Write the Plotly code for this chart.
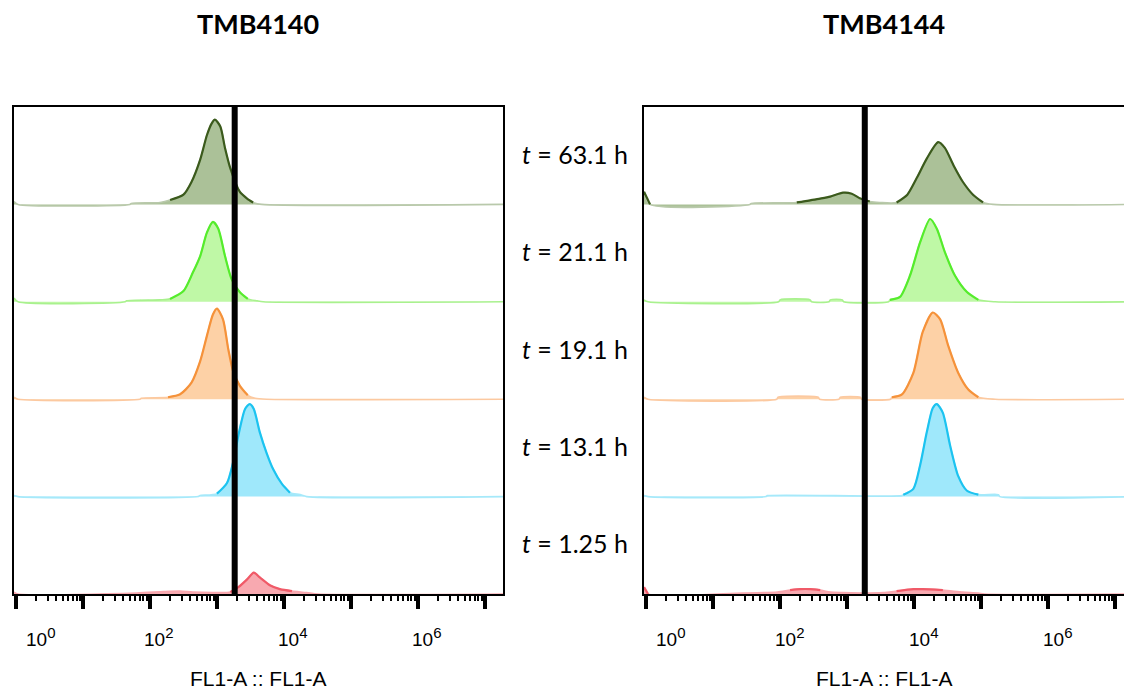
import numpy as np
import plotly.graph_objects as go

# ---------------- data (x positions as log10 of FL1-A, heights as fraction of row) -------------
PANELS = ["TMB4140", "TMB4144"]
TIMES = ["63.1", "21.1", "19.1", "13.1", "1.25"]          # top row -> bottom row
GATE = 1840                                               # vertical gate position (FL1-A)
AXIS_TITLE = "FL1-A :: FL1-A"
LABEL_EXPONENTS = [0, 2, 4, 6]
DECADES = [0, 1, 2, 3, 4, 5, 6, 7]

# TMB4140
L63_X = [-0.03, 0.03, 1.70, 1.72, 2.15, 2.30, 2.50, 2.62, 2.75, 2.85, 2.92, 2.97, 3.05, 3.12, 3.20, 3.34, 3.45, 3.54, 3.67, 7.30]
L63_H = [0.03, 0.0, 0.0, 0.01, 0.02, 0.045, 0.10, 0.23, 0.46, 0.71, 0.83, 0.87, 0.80, 0.58, 0.37, 0.13, 0.06, 0.02, 0.0, 0.0]
L21_X = [-0.03, 0.03, 1.63, 1.65, 2.15, 2.30, 2.50, 2.64, 2.75, 2.85, 2.94, 3.02, 3.12, 3.22, 3.34, 3.46, 3.60, 3.69, 7.30]
L21_H = [0.04, 0.0, 0.0, 0.01, 0.02, 0.03, 0.11, 0.30, 0.47, 0.71, 0.82, 0.75, 0.47, 0.23, 0.10, 0.03, 0.01, 0.0, 0.0]
L19_X = [-0.03, 0.03, 1.85, 1.87, 2.27, 2.45, 2.62, 2.75, 2.85, 2.94, 3.00, 3.09, 3.17, 3.24, 3.34, 3.46, 3.57, 3.74, 7.30]
L19_H = [0.02, 0.0, 0.0, 0.01, 0.02, 0.05, 0.17, 0.39, 0.65, 0.87, 0.93, 0.82, 0.51, 0.29, 0.14, 0.04, 0.01, 0.0, 0.0]
L13_X = [-0.03, 0.03, 2.72, 2.74, 3.00, 3.15, 3.24, 3.33, 3.42, 3.49, 3.55, 3.64, 3.74, 3.84, 3.97, 4.09, 4.24, 4.34, 7.30]
L13_H = [0.01, 0.0, 0.0, 0.01, 0.03, 0.14, 0.35, 0.66, 0.90, 0.95, 0.90, 0.66, 0.45, 0.28, 0.13, 0.04, 0.02, 0.0, 0.0]
L1_X = [-0.03, 0.03, 1.80, 2.20, 2.45, 2.64, 2.94, 3.20, 3.32, 3.45, 3.55, 3.64, 3.79, 3.94, 4.12, 4.34, 4.51, 7.30]
L1_H = [0.02, 0.0, 0.01, 0.025, 0.03, 0.02, 0.015, 0.02, 0.07, 0.15, 0.22, 0.17, 0.09, 0.05, 0.03, 0.015, 0.0, 0.0]

# TMB4144
R63_X = [-0.03, 0.06, 1.55, 1.57, 2.25, 2.60, 2.75, 2.94, 3.07, 3.20, 3.34, 3.49, 3.74, 3.90, 4.04, 4.19, 4.36, 4.46, 4.59, 4.73, 4.88, 5.03, 5.18, 7.30]
R63_H = [0.13, 0.0, 0.0, 0.01, 0.02, 0.06, 0.08, 0.12, 0.11, 0.06, 0.03, 0.02, 0.02, 0.10, 0.27, 0.47, 0.64, 0.58, 0.40, 0.23, 0.10, 0.02, 0.0, 0.0]
R21_X = [-0.03, 0.03, 1.98, 2.00, 2.45, 2.47, 2.73, 2.75, 2.93, 2.95, 3.62, 3.64, 3.79, 3.94, 4.09, 4.24, 4.34, 4.46, 4.61, 4.79, 4.96, 5.21, 7.30]
R21_H = [0.02, 0.0, 0.0, 0.02, 0.02, 0.0, 0.0, 0.02, 0.02, 0.0, 0.0, 0.02, 0.05, 0.27, 0.61, 0.85, 0.75, 0.51, 0.27, 0.10, 0.02, 0.0, 0.0]
R19_X = [-0.03, 0.03, 1.95, 1.97, 2.57, 2.59, 2.88, 2.90, 3.20, 3.22, 3.65, 3.67, 3.82, 3.99, 4.13, 4.28, 4.39, 4.51, 4.66, 4.81, 4.96, 5.21, 7.30]
R19_H = [0.02, 0.0, 0.0, 0.02, 0.02, 0.0, 0.0, 0.02, 0.02, 0.0, 0.0, 0.02, 0.05, 0.27, 0.69, 0.89, 0.82, 0.55, 0.27, 0.10, 0.02, 0.0, 0.0]
R13_X = [-0.03, 0.03, 1.79, 1.81, 3.82, 3.84, 3.99, 4.09, 4.19, 4.28, 4.34, 4.43, 4.54, 4.66, 4.79, 4.96, 5.26, 5.28, 7.30]
R13_H = [0.01, 0.0, 0.0, 0.01, 0.01, 0.02, 0.08, 0.32, 0.66, 0.91, 0.95, 0.86, 0.52, 0.21, 0.06, 0.02, 0.02, 0.0, 0.0]
R1_X = [-0.03, 0.03, 1.45, 1.96, 2.15, 2.30, 2.45, 2.60, 2.75, 2.94, 3.24, 3.54, 3.74, 3.99, 4.13, 4.43, 4.73, 4.96, 5.05, 7.30]
R1_H = [0.07, 0.0, 0.01, 0.02, 0.04, 0.05, 0.05, 0.04, 0.02, 0.015, 0.01, 0.015, 0.03, 0.05, 0.05, 0.04, 0.02, 0.01, 0.0, 0.0]

# colours per time (top -> bottom): line, fill, light baseline
LINE_COLORS = ["#3b5a1c", "#55ec2c", "#f5923a", "#1cc3f0", "#f05a68"]
FILL_COLORS = ["#abc198", "#bff8a6", "#fdd1a6", "#9fe8fb", "#f8a9b0"]
BASE_COLORS = ["#b9c9ab", "#a9f18e", "#fcc9a0", "#a6e9fa", "#f7a6ad"]

LEFT = [(L63_X, L63_H), (L21_X, L21_H), (L19_X, L19_H), (L13_X, L13_H), (L1_X, L1_H)]
RIGHT = [(R63_X, R63_H), (R21_X, R21_H), (R19_X, R19_H), (R13_X, R13_H), (R1_X, R1_H)]

fig = go.Figure()
n_rows = len(TIMES)
SMOOTH = 0.7


def add_panel(curves, xa, ya):
    for i, (lx, hh) in enumerate(curves):
        row = n_rows - 1 - i
        lx = np.array(lx)
        hh = np.array(hh)
        xv = 10 ** lx
        yv = row + hh
        # filled area
        fig.add_trace(go.Scatter(
            x=np.concatenate([xv, xv[::-1]]),
            y=np.concatenate([yv, np.full(len(xv), row)]),
            fill="toself", fillcolor=FILL_COLORS[i], mode="lines",
            line=dict(width=0, shape="spline", smoothing=SMOOTH),
            hoverinfo="skip", showlegend=False, xaxis=xa, yaxis=ya))
        # light outline (baseline and small steps)
        fig.add_trace(go.Scatter(
            x=xv, y=yv, mode="lines",
            line=dict(color=BASE_COLORS[i], width=1.6, shape="spline", smoothing=SMOOTH),
            hoverinfo="skip", showlegend=False, xaxis=xa, yaxis=ya))
        # darker outline on peaks
        mask = hh >= 0.05
        dil = mask.copy()
        dil[1:] |= mask[:-1]
        dil[:-1] |= mask[1:]
        ydark = [y if m else None for y, m in zip(yv, dil)]
        fig.add_trace(go.Scatter(
            x=xv, y=ydark, mode="lines", connectgaps=False,
            line=dict(color=LINE_COLORS[i], width=2.2, shape="spline", smoothing=SMOOTH),
            hoverinfo="skip", showlegend=False, xaxis=xa, yaxis=ya))
    # gate line
    fig.add_trace(go.Scatter(
        x=[GATE, GATE], y=[0, n_rows], mode="lines",
        line=dict(color="black", width=6), hoverinfo="skip", showlegend=False,
        xaxis=xa, yaxis=ya))


add_panel(LEFT, "x", "y")
add_panel(RIGHT, "x2", "y2")

minor_vals = [m * 10 ** d for d in DECADES for m in range(2, 10)]
major_vals = [10 ** d for d in DECADES]

xcommon = dict(
    type="log", showgrid=False, zeroline=False, showline=True, linecolor="black",
    linewidth=2, mirror=True, ticks="outside", tickvals=major_vals, ticklen=13,
    tickwidth=3.5, tickcolor="black", showticklabels=False,
    minor=dict(tickvals=minor_vals, ticks="outside", ticklen=5, tickwidth=1.6,
               tickcolor="black", showgrid=False),
)
ycommon = dict(range=[0, n_rows], showgrid=False, zeroline=False, showline=True,
               linecolor="black", linewidth=2, ticks="", showticklabels=False)

fig.update_layout(
    width=1124, height=690,
    margin=dict(l=14, r=0, t=107, b=96),
    plot_bgcolor="white", paper_bgcolor="white",
    xaxis=dict(domain=[0, 0.4405], range=[-0.03, 7.27], anchor="y", **xcommon),
    xaxis2=dict(domain=[0.5676, 1.0], range=[-0.03, 7.134], anchor="y2", **xcommon),
    yaxis=dict(domain=[0, 1], anchor="x", mirror=True, **ycommon),
    yaxis2=dict(domain=[0, 1], anchor="x2", mirror=False, **ycommon),
    showlegend=False,
)

annotations = []
# panel titles
for xr, name in zip(["x domain", "x2 domain"], PANELS):
    annotations.append(dict(
        text=f"<b>{name}</b>", xref=xr, x=0.5, yref="paper", y=1, yshift=84,
        showarrow=False, xanchor="center", yanchor="middle",
        font=dict(family="Lato", size=27, color="black")))
# tick labels and axis titles
for xr, xd in [("x", "x domain"), ("x2", "x2 domain")]:
    for e in LABEL_EXPONENTS:
        annotations.append(dict(
            text=f"10<sup><span style='font-size:15px'>{e}</span></sup>",
            xref=xr, x=e, yref="paper", y=0,
            yshift=-43, xshift=(24 if e == 0 else 9), showarrow=False,
            xanchor="center", yanchor="middle",
            font=dict(family="Liberation Sans", size=19, color="black")))
    annotations.append(dict(
        text=AXIS_TITLE, xref=xd, x=0.5, yref="paper", y=0, yshift=-84,
        showarrow=False, xanchor="center", yanchor="middle",
        font=dict(family="Liberation Sans", size=21, color="black")))
# time labels
for i, t in enumerate(TIMES):
    row = n_rows - 1 - i
    annotations.append(dict(
        text=f"<i>t</i> = {t} h", xref="paper", x=0.5054, yref="y", y=row + 0.52,
        showarrow=False, xanchor="center", yanchor="middle",
        font=dict(family="Lato", size=25, color="black")))

fig.update_layout(annotations=annotations)
fig.write_html("out.html", config={"displayModeBar": False},
               post_script="document.body.style.margin='0px';")
